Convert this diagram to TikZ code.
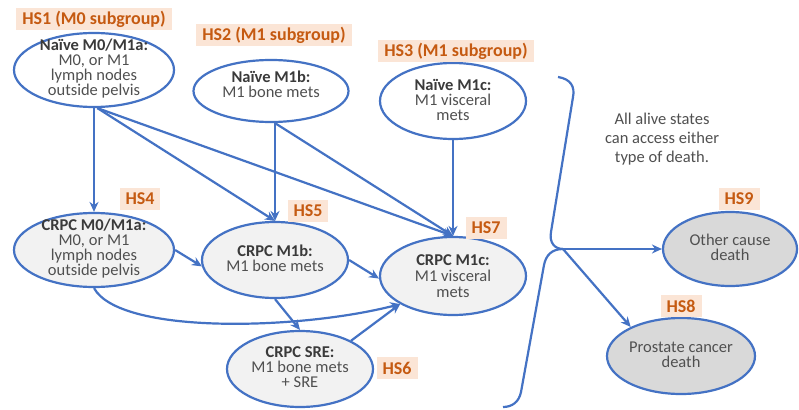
\documentclass[tikz,border=0pt]{standalone}
\usepackage{fontspec}
\setmainfont{Carlito}
\usetikzlibrary{shapes.geometric,arrows.meta}
\definecolor{blu}{HTML}{4472C4}
\definecolor{org}{HTML}{C55A11}
\definecolor{peach}{HTML}{FBE5D6}
\definecolor{lgray}{HTML}{F2F2F2}
\definecolor{dgray}{HTML}{D9D9D9}
\definecolor{txt}{HTML}{505050}
\definecolor{txtb}{HTML}{3A3A3A}
\newcommand\hdr[1]{{\color{txtb}\bfseries #1}}
\begin{document}
\begin{tikzpicture}[x=1pt,y=-1pt,
 state/.style={ellipse,draw=blu,line width=2.2pt,inner sep=0pt},
 naive/.style={state,fill=white},
 crpc/.style={state,fill=lgray},
 dead/.style={state,fill=dgray},
 txtnode/.style={align=center,text=txt,font=\fontsize{16.5}{15}\selectfont,inner sep=0pt},
 hs/.style={fill=peach,text=org,font=\fontsize{18}{20}\selectfont\bfseries,inner xsep=6pt,inner ysep=0pt,minimum height=22pt},
 arr/.style={draw=blu,line width=2.2pt,-{Stealth[length=10pt,width=9pt]}},
 brace/.style={draw=blu,line width=2.2pt}]
\fill[white] (0,0) rectangle (799,409);
\useasboundingbox (0,0) rectangle (799,409);

% ellipses
\node[naive,minimum width=160pt,minimum height=74pt] (HS1) at (94,70) {};
\node[naive,minimum width=155pt,minimum height=62pt] (HS2) at (271,91) {};
\node[naive,minimum width=146pt,minimum height=76pt] (HS3) at (453,101) {};
\node[crpc,minimum width=160pt,minimum height=74pt] (HS4) at (94,250) {};
\node[crpc,minimum width=146pt,minimum height=76pt] (HS5) at (275,260) {};
\node[crpc,minimum width=146pt,minimum height=76pt] (HS6) at (300,369) {};
\node[crpc,minimum width=146pt,minimum height=78pt] (HS7) at (453,276) {};
\node[dead,minimum width=134pt,minimum height=74pt] (HS9) at (730,249) {};
\node[dead,minimum width=148pt,minimum height=76pt] (HS8) at (681,356) {};

% texts
\node[txtnode] (t1) at (94,69) {\hdr{Naïve M0/M1a:}\\M0, or M1\\lymph nodes\\outside pelvis};
\node[txtnode] (t2) at (271,84) {\hdr{Naïve M1b:}\\M1 bone mets};
\node[txtnode] (t3) at (453,100) {\hdr{Naïve M1c:}\\M1 visceral\\mets};
\node[txtnode] (t4) at (94,249) {\hdr{CRPC M0/M1a:}\\M0, or M1\\lymph nodes\\outside pelvis};
\node[txtnode] (t5) at (275,258) {\hdr{CRPC M1b:}\\M1 bone mets};
\node[txtnode] (t6) at (300,367) {\hdr{CRPC SRE:}\\M1 bone mets\\+ SRE};
\node[txtnode,font=\fontsize{16.5}{16}\selectfont] (t7) at (453,276) {\hdr{CRPC M1c:}\\M1 visceral\\mets};
\node[txtnode] (t9) at (730,247) {Other cause\\death};
\node[txtnode] (t8) at (681,355) {Prostate cancer\\death};
\node[txtnode,font=\fontsize{16.5}{19}\selectfont] (note) at (662,139) {All alive states\\can access either\\type of death.};

% HS labels
\node[hs] (l1) at (94,19) {HS1 (M0 subgroup)};
\node[hs] (l2) at (274,35) {HS2 (M1 subgroup)};
\node[hs] (l3) at (456,51) {HS3 (M1 subgroup)};
\node[hs] (l4) at (140,199) {HS4};
\node[hs] (l5) at (308,211) {HS5};
\node[hs] (l6) at (397,368) {HS6};
\node[hs] (l7) at (486,228) {HS7};
\node[hs] (l9) at (739,199) {HS9};
\node[hs] (l8) at (681,306) {HS8};

% arrows
\draw[arr] (HS1.south) -- (HS4.north);
\draw[arr] (HS1.-85) -- (HS5.north);
\draw[arr] (HS1.-85) -- (HS7.north);
\draw[arr] (HS5.north |- HS2.south) -- (HS5.north);
\draw[arr] (HS5.north |- HS2.south) -- (HS7.north);
\draw[arr] (HS3.south) -- (HS7.north);
\draw[arr] (HS4.east) -- (HS5.185);
\draw[arr] (HS5.east) -- (HS7.182);
\draw[arr] (HS5.south) -- (HS6.north);
\draw[arr] (HS6.29) -- (HS7.208);
\draw[arr] (HS4.south) .. controls (120,335) and (300,330) .. (HS7.208);

% brace
\coordinate (tip) at (563,249);
\draw[brace] (558,77) .. controls (571,79) and (575,87) .. (573,97) -- (551,232) .. controls (549,243) and (555,249) .. (tip);
\draw[brace] (tip) .. controls (552,249) and (546,255) .. (544,265) -- (521,392) .. controls (519,402) and (512,407) .. (503,407);
\draw[arr] (tip) -- (HS9.west);
\draw[arr] (tip) -- (HS8.150);
\end{tikzpicture}
\end{document}
